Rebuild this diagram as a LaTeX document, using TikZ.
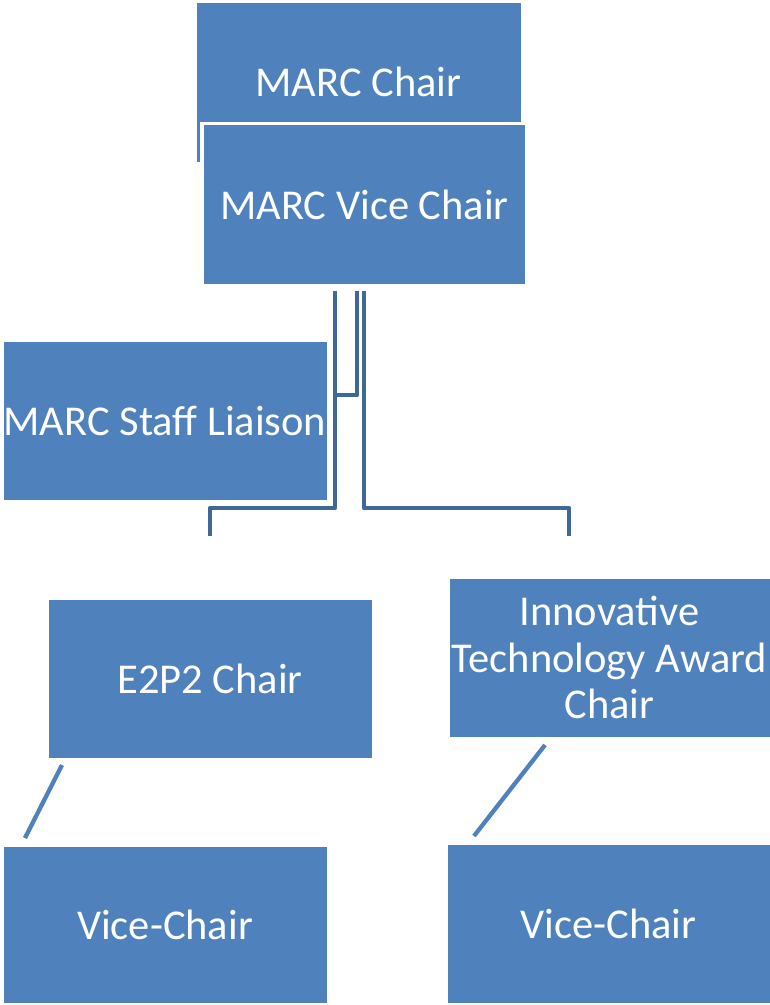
\documentclass[tikz,border=0pt]{standalone}
\usepackage{fontspec}
\setmainfont{Carlito}
\definecolor{boxblue}{HTML}{4F81BD}
\definecolor{linkblue}{HTML}{3F6898}
\begin{document}
\begin{tikzpicture}[x=1pt,y=-1pt,
  orgbox/.style={rectangle, fill=boxblue, draw=white, line width=1pt, inner sep=0pt, outer sep=0pt,
    minimum width=324pt, minimum height=159pt, text=white, align=center,
    font=\fontsize{42.5}{46.5}\selectfont},
  elbow/.style={draw=linkblue, line width=4.3pt, line join=round},
  diag/.style={draw=boxblue, line width=4.3pt}]
\useasboundingbox (0,0) rectangle (770,1005);
\fill[white] (0,0) rectangle (770,1005);
\node[orgbox, minimum width=325pt, minimum height=160pt] (chair) at (358.5,82) {MARC Chair};
\node[orgbox, minimum width=325pt, minimum height=162pt, line width=3.5pt] (vc) at (364.5,204.5) {MARC Vice Chair};
\node[orgbox] (staff) at (165,420.5) {MARC Staff Liaison};
\node[orgbox] (e2p2) at (210,678.5) {E2P2 Chair};
\node[orgbox, minimum width=321pt] (ita) at (609.5,657.5) {Innovative\\Technology Award\\Chair};
\node[orgbox, minimum height=157pt] (vcl) at (165,924.5) {Vice-Chair};
\node[orgbox, minimum width=323pt, minimum height=159pt] (vcr) at (608.5,923.5) {Vice-Chair};
% connectors
\coordinate (a0) at (335,291);
\coordinate (a1) at (335,508);
\coordinate (a2) at (210,508);
\coordinate (a3) at (210,536);
\coordinate (b0) at (357,291);
\coordinate (b1) at (357,395);
\coordinate (b2) at (337,395);
\coordinate (c0) at (364,291);
\coordinate (c1) at (364,508);
\coordinate (c2) at (569,508);
\coordinate (c3) at (569,536);
\draw[elbow] (a0) -- (a1) -- (a2) -- (a3);
\draw[elbow] (b0) -- (b1) -- (b2);
\draw[elbow] (c0) -- (c1) -- (c2) -- (c3);
\coordinate (d0) at (62,765);
\coordinate (d1) at (25,838);
\coordinate (e0) at (545,745);
\coordinate (e1) at (474,836);
\draw[diag] (d0) -- (d1);
\draw[diag] (e0) -- (e1);
\end{tikzpicture}
\end{document}
